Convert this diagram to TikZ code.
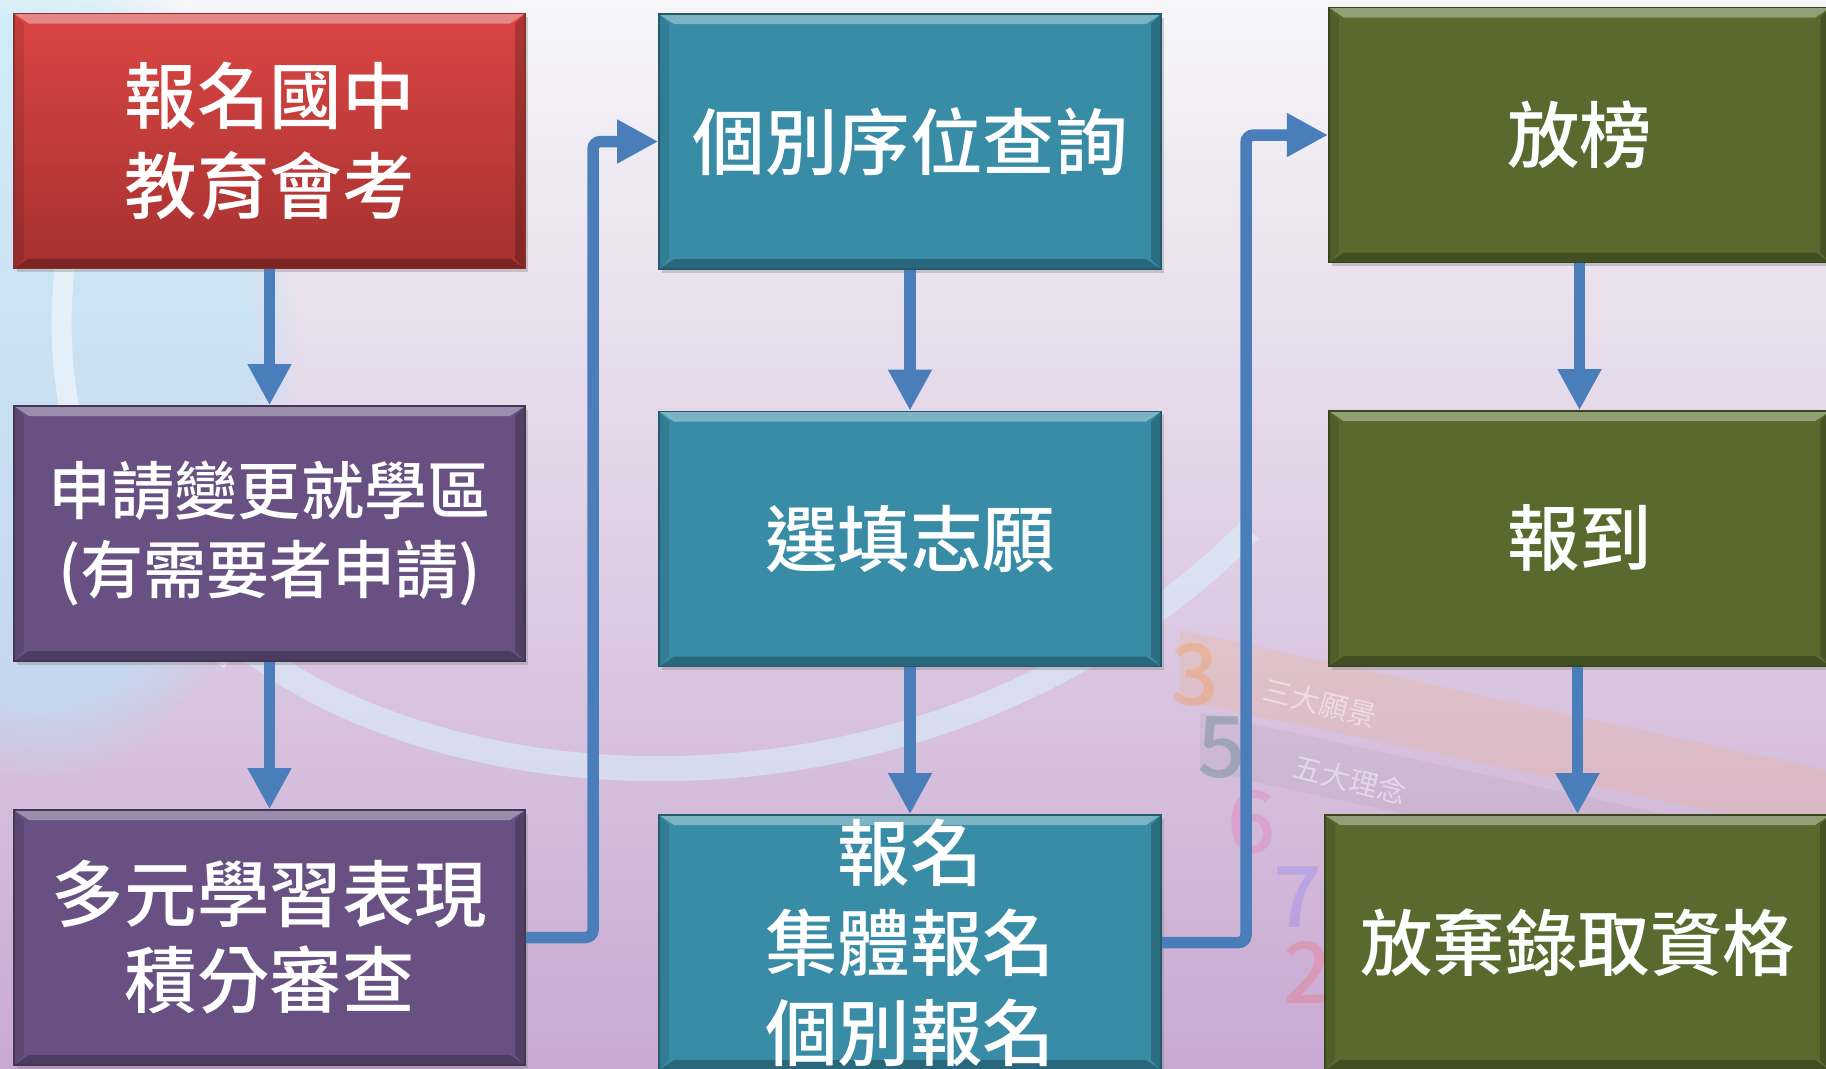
\documentclass[tikz,border=0pt]{standalone}
\usepackage{fontspec}
\newfontfamily\cjkfont{Noto Sans CJK TC}[BoldFont={Noto Sans CJK TC Medium}]
\usetikzlibrary{arrows.meta,shadows,fadings}

\definecolor{redtop}{HTML}{DB4643}
\definecolor{redbot}{HTML}{A53130}
\definecolor{stepplum}{HTML}{685182}
\definecolor{stepteal}{HTML}{388CA6}
\definecolor{stepgreen}{HTML}{596A2E}
\definecolor{flowblue}{HTML}{4A7EBB}
\definecolor{bgtop}{HTML}{F6F6F8}
\definecolor{bgmid}{HTML}{E8E0EC}
\definecolor{bgbot}{HTML}{C9A9D2}

\tikzset{
  stepbox/.style={fill=#1, draw=#1!65!black, line width=0.6pt,
    inner sep=0pt, minimum height=102pt, align=center, text=white,
    font=\cjkfont\bfseries\fontsize{29pt}{36pt}\selectfont,
    drop shadow={opacity=0.35, shadow xshift=1.2pt, shadow yshift=-1.5pt},
    path picture={
      \path (path picture bounding box.north west) coordinate (nw)
            (path picture bounding box.south east) coordinate (se);
      \fill[white, opacity=0.35] (nw) -- (nw -| se) -- ([shift={(-6pt,-4pt)}]nw -| se)
        -- ([shift={(6pt,-4pt)}]nw) -- cycle;
      \fill[black, opacity=0.22] (se) -- (se |- nw) -- ([shift={(-4pt,-4pt)}]se |- nw)
        -- ([shift={(-4pt,4pt)}]se) -- cycle;
      \fill[black, opacity=0.25] (se) -- (se -| nw) -- ([shift={(6pt,4pt)}]se -| nw)
        -- ([shift={(-6pt,4pt)}]se) -- cycle;
      \fill[black, opacity=0.10] (nw) -- (se -| nw) -- ([shift={(4pt,4pt)}]se -| nw)
        -- ([shift={(4pt,-4pt)}]nw) -- cycle;
    }},
  colA/.style={minimum width=204.4pt},
  colB/.style={minimum width=200.8pt},
  colC/.style={minimum width=200.6pt},
  flow/.style={draw=flowblue, line width=4.6pt, rounded corners=3pt,
    -{Triangle[width=16.5pt,length=16.5pt]}},
  faint/.style={font=\cjkfont\bfseries\fontsize{34pt}{34pt}\selectfont, opacity=0.22},
}

\begin{document}
\begin{tikzpicture}[x=0.4pt,y=-0.4pt]
  \path[use as bounding box, clip] (0,0) rectangle (1826,1068);

  % background
  \fill[top color=bgtop, middle color=bgmid, bottom color=bgbot] (0,0) rectangle (1826,1068);
  \fill[cyan!30!white, opacity=0.55, path fading=circle with fuzzy edge 20 percent]
    (40,360) ellipse [x radius=260, y radius=420];
  \draw[cyan!15!white, opacity=0.55, line width=10pt]
    (250,650) .. controls (480,820) and (950,830) .. (1250,530);
  \draw[white, opacity=0.5, line width=8pt]
    (70,230) .. controls (40,400) and (90,560) .. (230,660);
  \fill[orange!70!white, opacity=0.15] (1180,630) -- (1826,770) -- (1826,835) -- (1180,700) -- cycle;
  \fill[gray, opacity=0.10] (1200,712) -- (1826,850) -- (1826,905) -- (1200,770) -- cycle;
  \begin{scope}[faint]
    \node[text=orange] (n3) at (1195,675) {3};
    \node[text=teal!70!black] (n5) at (1222,748) {5};
    \node[text=magenta!70!white] (n6) at (1252,822) {6};
    \node[text=blue!60!white] (n7) at (1298,897) {7};
    \node[text=red!70!white] (n2) at (1308,972) {2};
  \end{scope}
  \begin{scope}[opacity=0.45, text=white, font=\cjkfont\fontsize{11.5pt}{12pt}\selectfont]
    \node[rotate=-14] (vision) at (1320,703) {三大願景};
    \node[rotate=-14] (idea) at (1350,780) {五大理念};
  \end{scope}

  % steps
  \node[stepbox=redtop, top color=redtop, bottom color=redbot, colA] (exam) at (269.5,141) {報名國中\\教育會考};
  \node[stepbox=stepplum, colA, font=\cjkfont\bfseries\fontsize{25.2pt}{31.6pt}\selectfont] (zone) at (269.5,533.5) {申請變更就學區\\(有需要者申請)};
  \node[stepbox=stepplum, colA, font=\cjkfont\bfseries\fontsize{29pt}{34.4pt}\selectfont] (merit) at (269.5,937.5) {多元學習表現\\積分審查};
  \node[stepbox=stepteal, colB] (rank) at (910,141.5) {個別序位查詢};
  \node[stepbox=stepteal, colB] (wish) at (910,539) {選填志願};
  \node[stepbox=stepteal, colB] (apply) at (910,942.5) {報名\\集體報名\\個別報名};
  \node[stepbox=stepgreen, colC] (list) at (1579.5,135) {放榜};
  \node[stepbox=stepgreen, colC] (report) at (1579.5,538.5) {報到};
  \node[stepbox=stepgreen, minimum width=202pt] (quit) at (1577.5,942.5) {放棄錄取資格};

  \coordinate (jcd) at (593,0);
  \coordinate (jfg) at (1246,0);
  \begin{scope}[flow]
    \draw (exam) -- (zone);
    \draw (zone) -- (merit);
    \draw (merit.east) -- (merit.east -| jcd) |- (rank.west);
    \draw (rank) -- (wish);
    \draw (wish) -- (apply);
    \draw (apply.east) -- (apply.east -| jfg) |- (list.west);
    \draw (list) -- (report);
    \draw (report.south -| quit) -- (quit);
  \end{scope}
\end{tikzpicture}
\end{document}
